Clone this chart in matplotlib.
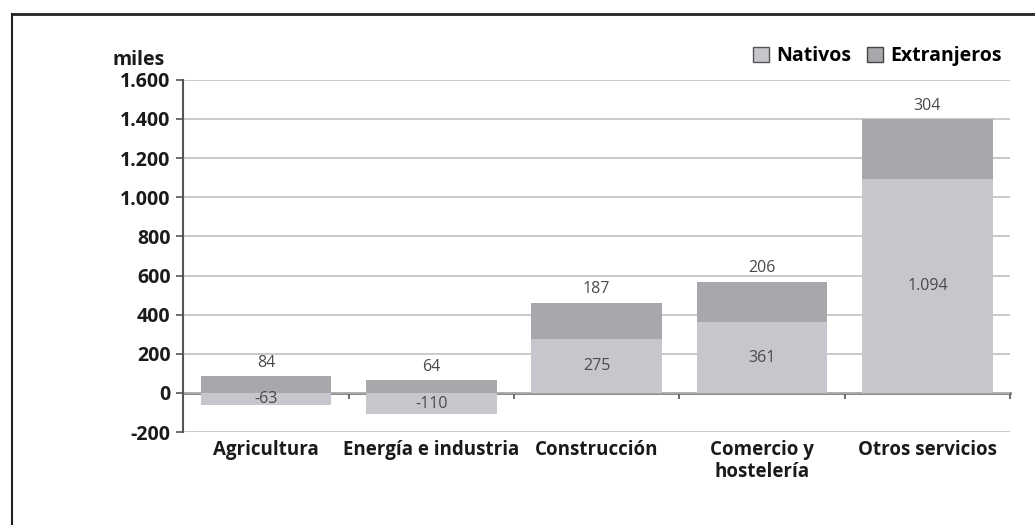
import numpy as np
import matplotlib
matplotlib.use("Agg")
import matplotlib.pyplot as plt
from matplotlib.patches import Patch

categorias = ["Agricultura", "Energía e industria", "Construcción",
              "Comercio y\nhostelería", "Otros servicios"]
nativos = [-63, -110, 275, 361, 1094]
extranjeros = [84, 64, 187, 206, 304]
yticks = [-200, 0, 200, 400, 600, 800, 1000, 1200, 1400, 1600]
ylabels = ["-200", "0", "200", "400", "600", "800", "1.000", "1.200", "1.400", "1.600"]

c_nat = "#c5c7cc"
c_ext = "#a7a8ac"
plt.rcParams["font.family"] = ["Open Sans", "DejaVu Sans"]

fig = plt.figure(figsize=(10.35, 5.25), dpi=100)
ax = fig.add_axes([0.177, 0.177, 0.799, 0.671])

x = np.arange(len(categorias))
nat = np.array(nativos)
ext = np.array(extranjeros)
# positivos apilados desde 0, negativos hacia abajo
base_ext = np.where(nat > 0, nat, 0)
ax.bar(x, nat, width=0.79, color=c_nat, zorder=2)
ax.bar(x, ext, width=0.79, bottom=base_ext, color=c_ext, zorder=2)

for i in range(len(x)):
    ax.text(x[i], nat[i] / 2, "{:,}".format(nat[i]).replace(",", "."),
            ha="center", va="center", fontsize=11.5, color="#4a4a4a", zorder=3)
    ax.annotate(str(ext[i]), (x[i], base_ext[i] + ext[i]), xytext=(0, 4),
                textcoords="offset points", ha="center", va="bottom",
                fontsize=11.5, color="#4a4a4a")

ax.set_xlim(-0.5, 4.5)
ax.set_ylim(-200, 1600)
ax.set_yticks(yticks)
ax.set_yticklabels(ylabels, fontsize=14, fontweight="bold", color="#1a1a1a")
ax.set_xticks(x)
ax.set_xticklabels(categorias, fontsize=13.5, fontweight="bold", color="#1a1a1a",
                   linespacing=1.1)
ax.tick_params(axis="x", length=0, pad=6)
ax.tick_params(axis="y", length=5, width=1.2, color="#555555", pad=4)
ax.yaxis.grid(True, color="#bbbbbb", linewidth=1.1, zorder=0)
ax.set_axisbelow(True)
for s in ["top", "right", "bottom"]:
    ax.spines[s].set_visible(False)
ax.spines["left"].set_color("#555555")
ax.spines["left"].set_linewidth(1.5)

# eje de categorias en el cero
frac0 = (0 - (-200)) / (1600 - (-200))
sec = ax.secondary_xaxis(frac0)
sec.set_xticks(np.arange(len(categorias) + 1) - 0.5)
sec.set_xticklabels([])
sec.tick_params(length=4, width=1.2, color="#555555", direction="out")
sec.spines["bottom"].set_color("#666666")
sec.spines["bottom"].set_linewidth(1.8)

fig.text(0.109, 0.885, "miles", fontsize=14, fontweight="bold", color="#1a1a1a",
         ha="left", va="center")

handles = [Patch(facecolor=c_nat, edgecolor="#555555", label="Nativos"),
           Patch(facecolor=c_ext, edgecolor="#444444", label="Extranjeros")]
fig.legend(handles=handles, loc="center right", bbox_to_anchor=(0.985, 0.893),
           ncol=2, frameon=False, prop={"weight": "bold", "size": 14},
           handlelength=0.8, handleheight=0.8, handletextpad=0.4, columnspacing=0.8)

# marco superior e izquierdo
fig.add_artist(plt.Line2D([0.012, 1.0], [0.973, 0.973], color="#222222", lw=2))
fig.add_artist(plt.Line2D([0.012, 0.012], [0.0, 0.973], color="#222222", lw=1.5))

fig.savefig("out.png", dpi=100)
